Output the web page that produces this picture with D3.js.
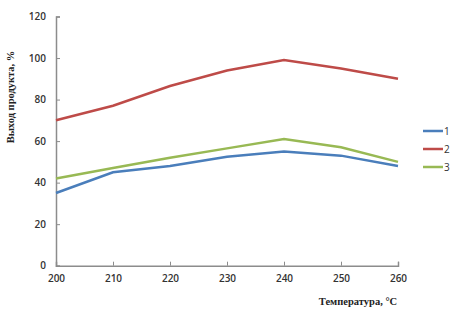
<!DOCTYPE html>
<html>
<head>
<meta charset="utf-8">
<script src="https://cdn.jsdelivr.net/npm/d3@7.9.0/dist/d3.min.js"></script>
<style>
  body { margin: 0; background: #fff; }
  svg { display: block; }
</style>
</head>
<body>
<svg id="chart" width="462" height="319"></svg>
<script>
// temperatures on x axis
const temps = [200, 210, 220, 230, 240, 250, 260];
// yield, % for each curve
const series1 = [35, 45, 48, 52.5, 55, 53, 48];
const series2 = [70, 77, 86.5, 94, 99, 95, 90];
const series3 = [42, 47, 52, 56.5, 61, 57, 50];
const seriesNames = ['1', '2', '3'];
const colors = ['#4a7ebb', '#be4b48', '#98b954'];
const yTicks = [0, 20, 40, 60, 80, 100, 120];

const svg = d3.select('#chart');

const x = d3.scaleLinear().domain([200, 260]).range([56, 398]);
const y = d3.scaleLinear().domain([0, 120]).range([265.7, 16.5]);

// axes
const xAxis = svg.append('g')
  .attr('transform', `translate(0,${y(0)})`)
  .call(d3.axisBottom(x).tickValues(temps).tickSize(-4).tickPadding(9));
const yAxis = svg.append('g')
  .attr('transform', `translate(${x(200)},0)`)
  .call(d3.axisLeft(y).tickValues(yTicks).tickSize(-4).tickPadding(10));

[xAxis, yAxis].forEach(g => {
  g.select('.domain').attr('stroke', '#8c8c8c').attr('stroke-width', 1.5);
  g.selectAll('.tick line').attr('stroke', '#8c8c8c');
  g.selectAll('.tick text')
    .attr('fill', '#333')
    .style('font', '600 10px "Open Sans", sans-serif');
});

// lines
const line = d3.line()
  .x((d, i) => x(temps[i]))
  .y(d => y(d));

[series1, series2, series3].forEach((s, i) => {
  svg.append('path')
    .datum(s)
    .attr('fill', 'none')
    .attr('stroke', colors[i])
    .attr('stroke-width', 2.5)
    .attr('d', line);
});

// legend
const legend = svg.append('g').attr('transform', 'translate(423,131)');
seriesNames.forEach((n, i) => {
  const row = legend.append('g').attr('transform', `translate(0,${i * 18})`);
  row.append('line')
    .attr('x1', 0).attr('x2', 20)
    .attr('stroke', colors[i]).attr('stroke-width', 2.5);
  row.append('text')
    .attr('x', 21).attr('dy', '0.35em')
    .attr('fill', '#333')
    .style('font', '10px "Open Sans", sans-serif')
    .text(n);
});

// axis titles
svg.append('text')
  .attr('transform', 'translate(14,97) rotate(-90)')
  .attr('text-anchor', 'middle')
  .style('font', 'bold 10.5px "Liberation Serif", serif')
  .attr('fill', '#222')
  .text('Выход продукта, %');

svg.append('text')
  .attr('x', 358).attr('y', 305)
  .attr('text-anchor', 'middle')
  .style('font', 'bold 10.5px "Liberation Serif", serif')
  .attr('fill', '#222')
  .text('Температура, °C');
</script>
</body>
</html>
